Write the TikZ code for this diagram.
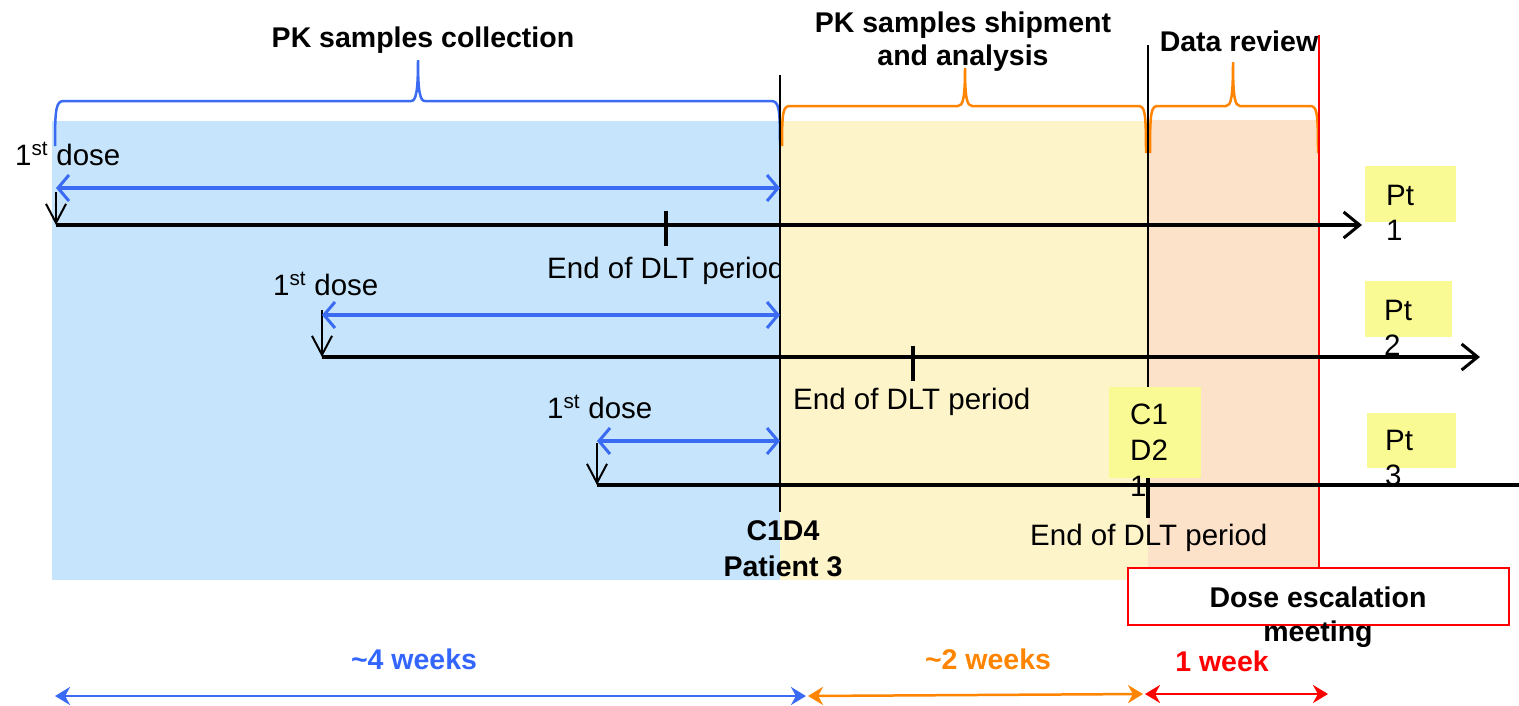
\documentclass[tikz,border=0pt]{standalone}
\usepackage{fontspec}
\setmainfont{Liberation Sans}
\usetikzlibrary{arrows.meta}
\definecolor{bluefill}{HTML}{C6E5FC}
\definecolor{yellowfill}{HTML}{FEF4CA}
\definecolor{peachfill}{HTML}{FDE2CA}
\definecolor{ptfill}{HTML}{FAFA94}
\definecolor{myblue}{HTML}{3A6BF2}
\definecolor{txtblue}{HTML}{3366FF}
\definecolor{myorange}{HTML}{FF8400}
\definecolor{myred}{HTML}{FF0000}
\begin{document}
\begin{tikzpicture}[x=1pt,y=-1pt,
  txt/.style={font=\fontsize{29.5}{35}\selectfont, inner sep=0pt, anchor=base west},
  btxt/.style={font=\fontsize{28.5}{34}\selectfont\bfseries, inner sep=0pt, anchor=base},
  axis/.style={line width=3.5pt, -{Straight Barb[length=16pt,width=26pt,line width=3pt]}},
  dosearrow/.style={line width=2pt, -{Straight Barb[length=19pt,width=20pt,line width=2pt]}},
  pkarrow/.style={myblue, line width=3.5pt, {Straight Barb[length=11pt,width=26pt,line width=3pt]}-{Straight Barb[length=11pt,width=26pt,line width=3pt]}},
  tick/.style={line width=3.5pt},
  brace/.style={line width=2.5pt},
  span/.style={line width=2.5pt, {Stealth[length=15pt,width=18pt]}-{Stealth[length=15pt,width=18pt]}},
]
\useasboundingbox (0,0) rectangle (1519,705);
\clip (0,0) rectangle (1519,705);

% background phases
\fill[bluefill] (52,121) rectangle (780,580);
\node[txt] (dlt1) at (547,278) {End of DLT period};
\fill[yellowfill] (780,121) rectangle (1148,580);
\fill[peachfill] (1148,120) rectangle (1318,580);

% braces
\draw[brace, myblue] (55,146) .. controls (55,108) and (56,101) .. (64,101) -- (411,101)
  .. controls (416,101) and (418,92) .. (418,60) .. controls (418,92) and (420,101) .. (425,101)
  -- (771,101) .. controls (779,101) and (780,108) .. (780,145);
\draw[brace, myorange] (782,146) .. controls (782,112) and (783,106) .. (790,106) -- (958,106)
  .. controls (963,106) and (965,98) .. (965,68) .. controls (965,98) and (967,106) .. (972,106)
  -- (1138,106) .. controls (1145,106) and (1146,112) .. (1146,153);
\draw[brace, myorange] (1150,153) .. controls (1150,112) and (1151,106) .. (1158,106) -- (1226,106)
  .. controls (1231,106) and (1233,98) .. (1233,62) .. controls (1233,98) and (1235,106) .. (1240,106)
  -- (1310,106) .. controls (1317,106) and (1318,112) .. (1318,153);

% titles
\node[btxt] (t1) at (423,47) {PK samples collection};
\node[btxt] (t2a) at (963,32) {PK samples shipment};
\node[btxt] (t2b) at (963,65) {and analysis};
\node[btxt] (t3) at (1239,51) {Data review};

% vertical separators
\coordinate (v1a) at (780,75); \coordinate (v1b) at (780,512);
\coordinate (v2a) at (1148,45); \coordinate (v2b) at (1148,478);
\draw[line width=2pt] (v1a) -- (v1b);
\draw[line width=2pt] (v2a) -- (v2b);
\coordinate (ra) at (1319,35); \coordinate (rb) at (1319,568);
\draw[myred, line width=2.5pt] (ra) -- (rb);

% patient 1
\coordinate (p1s) at (56,225); \coordinate (p1e) at (1362,225);
\coordinate (d1a) at (56,192); \coordinate (b1a) at (56,188); \coordinate (b1b) at (780,188);
\draw[axis] (p1s) -- (p1e);
\draw[dosearrow] (d1a) -- (p1s);
\draw[pkarrow] (b1a) -- (b1b);
\coordinate (k1a) at (666,211); \coordinate (k1b) at (666,246);
\draw[tick] (k1a) -- (k1b);
\node[txt] (dose1) at (15,165) {1\textsuperscript{st} dose};
\fill[ptfill] (1365,166) rectangle (1456,222);
\node[txt] (pt1a) at (1386,205) {Pt};
\node[txt] (pt1b) at (1386,240) {1};

% patient 2
\coordinate (p2s) at (322,357); \coordinate (p2e) at (1480,357);
\coordinate (d2a) at (322,310); \coordinate (b2a) at (322,315); \coordinate (b2b) at (780,315);
\draw[axis] (p2s) -- (p2e);
\draw[dosearrow] (d2a) -- (p2s);
\draw[pkarrow] (b2a) -- (b2b);
\coordinate (k2a) at (913,346); \coordinate (k2b) at (913,381);
\draw[tick] (k2a) -- (k2b);
\node[txt] (dose2) at (273,295) {1\textsuperscript{st} dose};
\node[txt] (dlt2) at (793,409) {End of DLT period};
\fill[ptfill] (1365,281) rectangle (1452,337);
\node[txt] (pt2a) at (1384,320) {Pt};
\node[txt] (pt2b) at (1384,355) {2};

% patient 3
\coordinate (p3s) at (597,485); \coordinate (p3e) at (1545,485);
\coordinate (d3a) at (597,443); \coordinate (b3a) at (597,441); \coordinate (b3b) at (780,441);
\draw[axis] (p3s) -- (p3e);
\draw[dosearrow] (d3a) -- (p3s);
\draw[pkarrow] (b3a) -- (b3b);
\node[txt] (dose3) at (547,418) {1\textsuperscript{st} dose};
\fill[ptfill] (1367,413) rectangle (1456,468);
\node[txt] (pt3a) at (1385,450) {Pt};
\node[txt] (pt3b) at (1385,485) {3};
\fill[ptfill] (1109,387) rectangle (1201,478);
\node[txt] (c1) at (1130,424) {C1};
\node[txt] (c2) at (1130,460) {D2};
\node[txt] (c3) at (1130,496) {1};
\coordinate (k3a) at (1148,478); \coordinate (k3b) at (1148,518);
\draw[tick] (k3a) -- (k3b);
\node[txt] (dlt3) at (1030,545) {End of DLT period};

% C1D4 label
\node[btxt] (c1d4) at (783,540) {C1D4};
\node[btxt] (pat3) at (783,576) {Patient 3};

% dose escalation meeting
\draw[myred, line width=1.5pt, fill=white] (1128,568) rectangle (1509,625);
\node[btxt] (dem1) at (1318,607) {Dose escalation};
\node[btxt] (dem2) at (1318,641) {meeting};

% bottom durations
\node[btxt, text=txtblue] (w4) at (414,669) {\textasciitilde4 weeks};
\node[btxt, text=myorange] (w2) at (988,669) {\textasciitilde2 weeks};
\node[btxt, text=myred] (w1) at (1222,671) {1 week};
\coordinate (s1a) at (55,696); \coordinate (s1b) at (806,696);
\coordinate (s2a) at (808,696); \coordinate (s2b) at (1143,694);
\coordinate (s3a) at (1145,694); \coordinate (s3b) at (1328,694);
\draw[span, myblue] (s1a) -- (s1b);
\draw[span, myorange] (s2a) -- (s2b);
\draw[span, myred] (s3a) -- (s3b);
\end{tikzpicture}
\end{document}
